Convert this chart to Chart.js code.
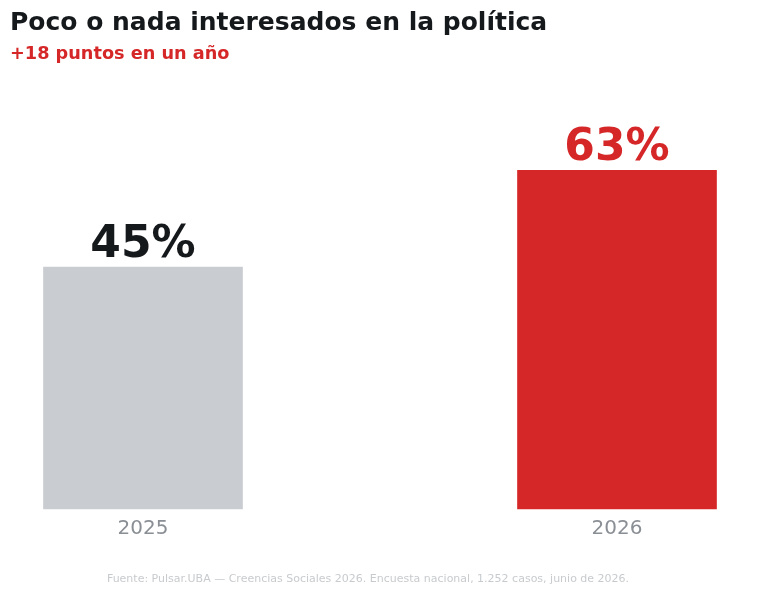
<!DOCTYPE html>
<html>
<head>
<meta charset="utf-8">
<script src="https://cdn.jsdelivr.net/npm/chart.js@4"></script>
<style>
  body { margin: 0; background: #fff; }
  #wrap { position: relative; width: 760px; height: 596px; }
</style>
</head>
<body>
<div id="wrap"><canvas id="canvas" width="760" height="596"></canvas></div>
<script>
const years = ['2025', '2026'];
const values = [45, 63];
const barColors = ['#c9cdd1', '#d62728'];
const labelColors = ['#16191c', '#d62728'];

const titleText = 'Poco o nada interesados en la política';
const subtitleText = '+18 puntos en un año';
const footText = 'Fuente: Pulsar.UBA — Creencias Sociales 2026. Encuesta nacional, 1.252 casos, junio de 2026.';

// draws title, subtitle, value labels and the source line
const extras = {
  id: 'extras',
  afterDraw(chart) {
    const c = chart.ctx;
    c.save();
    c.textBaseline = 'middle';
    c.textAlign = 'left';
    c.fillStyle = '#16191c';
    c.font = 'bold 25px "DejaVu Sans"';
    c.fillText(titleText, 10, 23);
    c.fillStyle = '#d62728';
    c.font = 'bold 17.7px "DejaVu Sans"';
    c.fillText(subtitleText, 10, 54);

    const meta = chart.getDatasetMeta(0);
    c.textAlign = 'center';
    c.textBaseline = 'alphabetic';
    c.font = 'bold 44px "DejaVu Sans"';
    meta.data.forEach((bar, i) => {
      c.fillStyle = labelColors[i];
      c.fillText(values[i] + '%', bar.x, bar.y - 10);
    });

    c.textBaseline = 'middle';
    c.fillStyle = '#c8cbce';
    c.font = '11px "DejaVu Sans"';
    c.fillText(footText, 368, 579);
    c.restore();
  }
};

new Chart(document.getElementById('canvas'), {
  type: 'bar',
  data: {
    labels: years,
    datasets: [{
      data: values,
      backgroundColor: barColors,
      barThickness: 199,
      clip: false
    }]
  },
  options: {
    responsive: false,
    animation: false,
    layout: { padding: { left: 143, right: 143, top: 79, bottom: 55 } },
    plugins: { legend: { display: false }, tooltip: { enabled: false } },
    scales: {
      x: {
        offset: false,
        grid: { display: false },
        border: { display: false },
        ticks: { color: '#8a8f95', font: { family: 'DejaVu Sans', size: 20 }, padding: 0 }
      },
      y: {
        display: false,
        min: 0,
        max: 80
      }
    }
  },
  plugins: [extras]
});
</script>
</body>
</html>
